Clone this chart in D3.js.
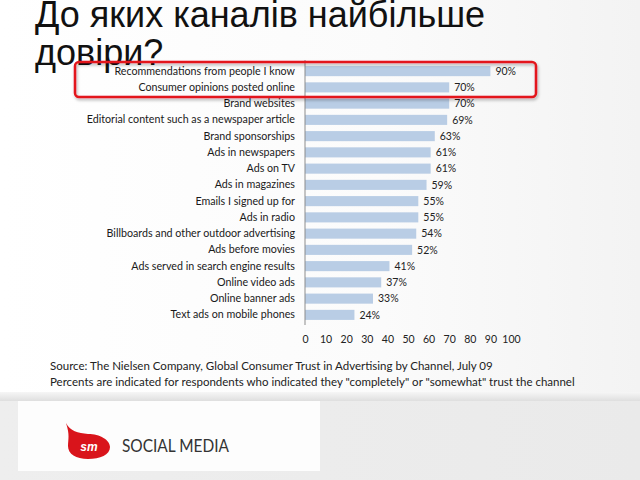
<!DOCTYPE html>
<html><head><meta charset="utf-8">
<script src="https://cdn.jsdelivr.net/npm/d3@7"></script>
<style>body{margin:0;background:#fff;}svg{display:block;}</style>
</head><body>
<script>
const categories = [
  "Recommendations from people I know",
  "Consumer opinions posted online",
  "Brand websites",
  "Editorial content such as a newspaper article",
  "Brand sponsorships",
  "Ads in newspapers",
  "Ads on TV",
  "Ads in magazines",
  "Emails I signed up for",
  "Ads in radio",
  "Billboards and other outdoor advertising",
  "Ads before movies",
  "Ads served in search engine results",
  "Online video ads",
  "Online banner ads",
  "Text ads on mobile phones"
];
const values = [90, 70, 70, 69, 63, 61, 61, 59, 55, 55, 54, 52, 41, 37, 33, 24];
const xTicks = [0, 10, 20, 30, 40, 50, 60, 70, 80, 90, 100];
const titleLines = ["До яких каналів найбільше", "довіри?"];
const sourceLines = [
  "Source: The Nielsen Company, Global Consumer Trust in Advertising by Channel, July 09",
  "Percents are indicated for respondents who indicated they \"completely\" or \"somewhat\" trust the channel"
];

const W = 640, H = 480;
const svg = d3.select("body").append("svg").attr("width", W).attr("height", H);
const defs = svg.append("defs");
const g1 = defs.append("linearGradient").attr("id","bg").attr("x1","0").attr("x2","1").attr("y1","0").attr("y2","0");
g1.append("stop").attr("offset","0").attr("stop-color","#ffffff");
g1.append("stop").attr("offset","0.6").attr("stop-color","#fbfbfb");
g1.append("stop").attr("offset","1").attr("stop-color","#f3f3f3");
const g2 = defs.append("linearGradient").attr("id","bot").attr("x1","0").attr("x2","1").attr("y1","0").attr("y2","0");
g2.append("stop").attr("offset","0").attr("stop-color","#eeeeee");
g2.append("stop").attr("offset","1").attr("stop-color","#eaeaea");
const sh = defs.append("linearGradient").attr("id","sh").attr("x1","0").attr("x2","0").attr("y1","0").attr("y2","1");
sh.append("stop").attr("offset","0").attr("stop-color","#f6f6f6");
sh.append("stop").attr("offset","1").attr("stop-color","#dcdcdc");
const flt = defs.append("filter").attr("id","ds").attr("x","-5%").attr("y","-20%").attr("width","110%").attr("height","150%");
flt.append("feDropShadow").attr("dx",1).attr("dy",2).attr("stdDeviation",1.5).attr("flood-color","#000").attr("flood-opacity",0.3);

svg.append("rect").attr("width",W).attr("height",H).attr("fill","url(#bg)");
svg.append("rect").attr("x",0).attr("y",392).attr("width",W).attr("height",10).attr("fill","url(#sh)");
svg.append("rect").attr("x",0).attr("y",401).attr("width",W).attr("height",79).attr("fill","url(#bot)");
svg.append("rect").attr("x",18).attr("y",401).attr("width",302).attr("height",70).attr("fill","#fdfdfd");

// Title
svg.append("g").selectAll("text").data(titleLines).join("text")
  .attr("x", 35).attr("y", (d,i) => 27 + i*38)
  .attr("font-family", "Liberation Sans, Arial, sans-serif")
  .attr("font-size", 36).attr("fill", "#111")
  .text(d => d);

// Scales
const x = d3.scaleLinear().domain([0, 100]).range([305, 511]);
const y = d3.scaleBand().domain(categories).range([63, 323]).paddingInner(0.38).paddingOuter(0.19);

// Bars
svg.append("g").selectAll("rect").data(categories).join("rect")
  .attr("x", x(0)).attr("y", d => y(d))
  .attr("width", (d,i) => x(values[i]) - x(0))
  .attr("height", y.bandwidth())
  .attr("fill", "#b9cde5");

// Value labels
svg.append("g").selectAll("text").data(categories).join("text")
  .attr("x", (d,i) => x(values[i]) + 5)
  .attr("y", d => y(d) + y.bandwidth()/2)
  .attr("dy", "0.35em")
  .attr("font-family", "Lato, Open Sans, sans-serif")
  .attr("font-size", 10.5).attr("fill", "#222")
  .text((d,i) => values[i] + "%");

// Category axis
const ay = svg.append("g").attr("transform", `translate(${x(0)},0)`)
  .call(d3.axisLeft(y).tickSize(0).tickPadding(10));
ay.select(".domain").attr("stroke", "#8c8c8c").attr("d", "M0,60V325");
ay.selectAll("text").attr("font-family", "Lato, Open Sans, sans-serif").attr("font-size", 10.7).attr("fill", "#1a1a1a");

// Value axis (tick labels only)
const ax = svg.append("g").attr("transform", "translate(0,334)")
  .call(d3.axisBottom(x).tickValues(xTicks).tickSize(0).tickPadding(2));
ax.select(".domain").remove();
ax.selectAll("text").attr("font-family", "Lato, Open Sans, sans-serif").attr("font-size", 10.5).attr("fill", "#222");

// Highlight box
svg.append("rect").attr("x", 75).attr("y", 62).attr("width", 461).attr("height", 35)
  .attr("rx", 4).attr("fill", "none").attr("stroke", "#e3161e").attr("stroke-width", 2.5)
  .attr("filter", "url(#ds)");

// Source lines
svg.append("g").selectAll("text").data(sourceLines).join("text")
  .attr("x", 50).attr("y", (d,i) => 370 + i*16)
  .attr("font-family", "Lato, Open Sans, sans-serif")
  .attr("font-size", 11.5).attr("fill", "#222")
  .text(d => d);

// Logo
const logo = svg.append("g");
logo.append("path")
  .attr("d", "M66,423 C70,431 78,433 88,434 C100,434 110,440 110,447 C110,455 100,459 88,459 C76,459 68,454 68,446 C68,439 70,435 66,423 Z")
  .attr("fill", "#d9141b");
logo.append("text").attr("x", 89).attr("y", 451).attr("text-anchor","middle")
  .attr("font-family","Liberation Sans, Arial, sans-serif").attr("font-weight","bold").attr("font-style","italic")
  .attr("font-size", 12).attr("fill","#fff").text("sm");
logo.append("text").attr("x", 122).attr("y", 452)
  .attr("font-family","Lato, Open Sans, sans-serif").attr("font-size", 17.5).attr("fill","#333")
  .attr("textLength", 107).attr("lengthAdjust", "spacingAndGlyphs")
  .text("SOCIAL MEDIA");
</script>
</body></html>
